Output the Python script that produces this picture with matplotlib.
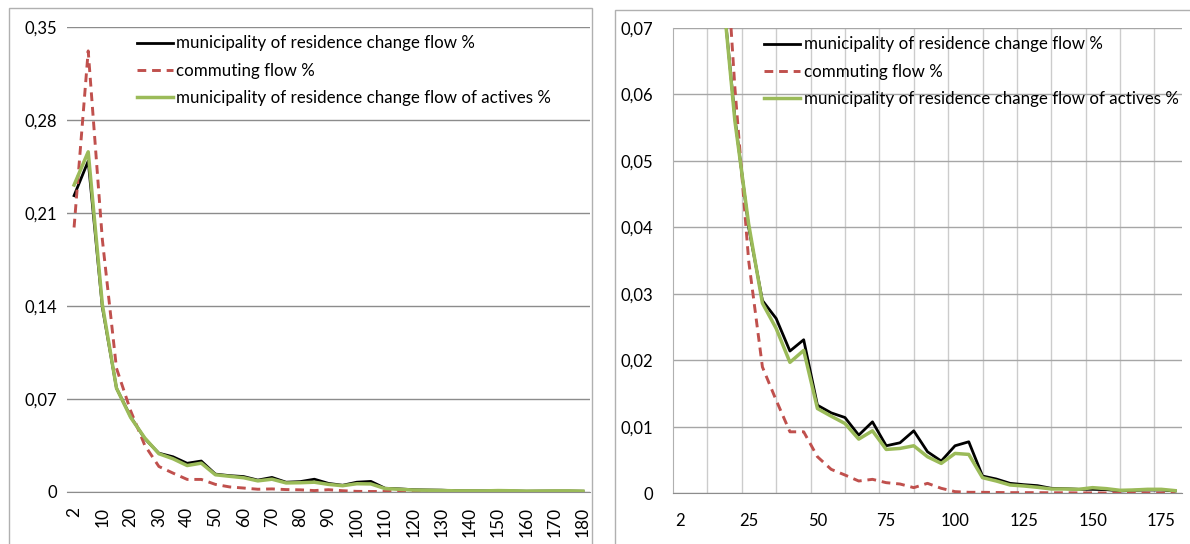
import matplotlib
matplotlib.use("Agg")
import matplotlib.pyplot as plt
from matplotlib.patches import Rectangle
import numpy as np

plt.rcParams['font.family'] = ['Lato', 'DejaVu Sans']

# distance classes (km)
categories = [2, 5, 10, 15, 20, 25, 30, 35, 40, 45, 50, 55, 60, 65, 70, 75, 80, 85, 90,
              95, 100, 105, 110, 115, 120, 125, 130, 135, 140, 145, 150, 155, 160, 165,
              170, 175, 180]

residence_change = [0.223, 0.249, 0.139, 0.078, 0.0565, 0.040, 0.029, 0.0263, 0.0214, 0.0231,
                    0.01325, 0.0121, 0.0114, 0.00875, 0.01075, 0.00715, 0.0076, 0.0094, 0.00625,
                    0.00485, 0.00715, 0.00775, 0.0026, 0.00215, 0.0015, 0.0013, 0.00115, 0.00075,
                    0.0007, 0.0006, 0.0006, 0.00055, 0.00035, 0.00045, 0.0005, 0.0005, 0.00035]

commuting = [0.199, 0.332, 0.19, 0.093, 0.061, 0.035, 0.019, 0.014, 0.00925, 0.00925,
             0.0055, 0.0036, 0.00275, 0.00185, 0.0021, 0.0016, 0.0014, 0.00085, 0.0015,
             0.00075, 0.00025, 0.00015, 0.00015, 0.00012, 0.0001, 0.0001, 0.0001, 0.00008,
             0.00008, 0.00006, 0.00006, 0.00005, 0.00005, 0.00005, 0.00004, 0.00004, 0.00004]

residence_change_actives = [0.231, 0.256, 0.141, 0.078, 0.056, 0.0405, 0.0286, 0.0248, 0.0197,
                            0.0215, 0.01275, 0.0116, 0.0105, 0.00815, 0.0094, 0.0066, 0.00675,
                            0.00715, 0.0055, 0.0045, 0.006, 0.00585, 0.00235, 0.00185, 0.00125,
                            0.0011, 0.0009, 0.00065, 0.00065, 0.0006, 0.00085, 0.0007, 0.00045,
                            0.0005, 0.0006, 0.0006, 0.0004]

series_labels = ["municipality of residence change flow %",
                 "commuting flow %",
                 "municipality of residence change flow of actives %"]

left_yticks = [0, 0.07, 0.14, 0.21, 0.28, 0.35]
left_yticklabels = ["0", "0,07", "0,14", "0,21", "0,28", "0,35"]
right_yticks = [0, 0.01, 0.02, 0.03, 0.04, 0.05, 0.06, 0.07]
right_yticklabels = ["0", "0,01", "0,02", "0,03", "0,04", "0,05", "0,06", "0,07"]

W, H = 1190, 544
fig = plt.figure(figsize=(W / 100, H / 100), dpi=100)


def px_axes(x0, y0, x1, y1):
    return fig.add_axes([x0 / W, 1 - y1 / H, (x1 - x0) / W, (y1 - y0) / H])


# chart area frames
for x0, y0, x1, y1 in [(9, 8, 592, 560), (615, 10, 1200, 560)]:
    fig.patches.append(Rectangle((x0 / W, 1 - y1 / H), (x1 - x0) / W, (y1 - y0) / H,
                                 transform=fig.transFigure, fill=False,
                                 edgecolor="#b0b0b0", linewidth=1.0, zorder=0))

x = np.arange(len(categories))


def draw_lines(ax, anchor_x):
    ax.plot(x, residence_change, color="black", lw=2.0, label=series_labels[0], zorder=3)
    ax.plot(x, commuting, color="#C0504D", lw=2.1, dashes=(3.0, 2.0), label=series_labels[1],
            zorder=3)
    ax.plot(x, residence_change_actives, color="#9BBB59", lw=2.5, label=series_labels[2],
            zorder=4)
    leg = ax.legend(loc="upper left", bbox_to_anchor=(anchor_x, 1.0), frameon=False,
                    fontsize=12.2, handlelength=2.1, handletextpad=0.22, labelspacing=0.66,
                    borderaxespad=0.1)
    return leg


# left chart
axl = px_axes(67, 27, 590, 491.7)
draw_lines(axl, 0.118)
axl.set_xlim(-0.5, len(categories) - 0.5)
axl.set_ylim(0, 0.35)
axl.set_yticks(left_yticks)
axl.set_yticklabels(left_yticklabels)
axl.set_xticks(x[::2])
axl.set_xticklabels([str(c) for c in categories[::2]], rotation=90)
axl.grid(axis="y", color="#8c8c8c", lw=1.0)
axl.set_axisbelow(True)
for s in ["left", "right", "top"]:
    axl.spines[s].set_visible(False)
axl.spines["bottom"].set_color("#8c8c8c")
axl.tick_params(axis="y", length=0, pad=7, labelsize=12)
axl.tick_params(axis="x", length=0, pad=11, labelsize=12.5)

# right chart
axr = px_axes(673, 28, 1182, 493.3)
draw_lines(axr, 0.163)
axr.set_xlim(-0.5, len(categories) - 0.5)
axr.set_ylim(0, 0.07)
axr.set_yticks(right_yticks)
axr.set_yticklabels(right_yticklabels)
axr.set_xticks(x[::5])
axr.set_xticklabels([str(c) for c in categories[::5]])
axr.grid(axis="y", color="#a6a6a6", lw=1.0)
for gx in np.arange(2, len(categories) - 1, 2.5):
    axr.axvline(gx, color="#cccccc", lw=1.0, zorder=0)
axr.set_axisbelow(True)
for s in ["right", "top"]:
    axr.spines[s].set_visible(False)
axr.spines["bottom"].set_color("#8c8c8c")
axr.spines["left"].set_color("#b0b0b0")
axr.tick_params(axis="y", length=0, pad=14, labelsize=12)
axr.tick_params(axis="x", length=0, pad=14, labelsize=12)

fig.savefig("out.png", dpi=100)
